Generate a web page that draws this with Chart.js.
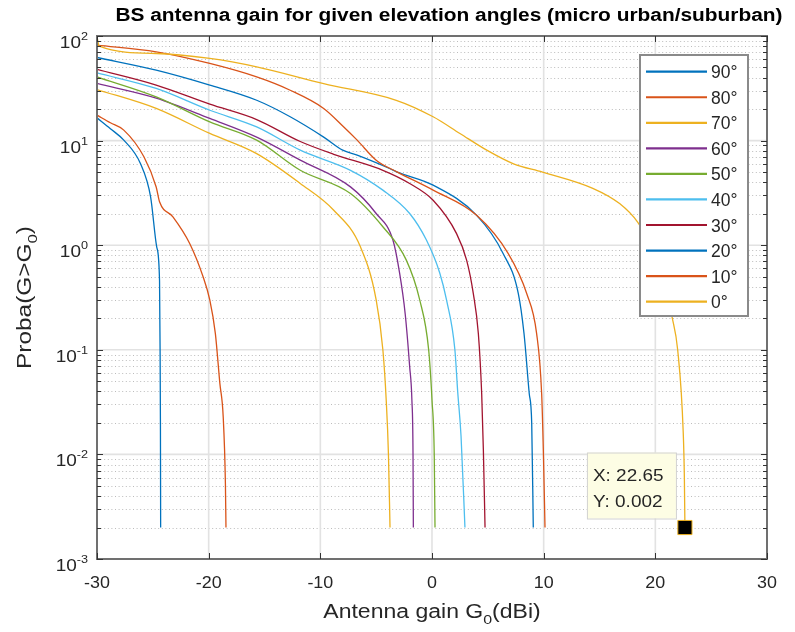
<!DOCTYPE html>
<html lang="en">
<head>
<meta charset="UTF-8">
<title>BS antenna gain for given elevation angles</title>
<script src="https://cdn.jsdelivr.net/npm/chart.js"></script>
<style>
  html, body { margin: 0; padding: 0; background: #fff; }
  #wrap { width: 795px; height: 632px; }
</style>
</head>
<body>
<div id="wrap"><canvas id="gainChart" width="795" height="632"></canvas></div>
<script>
// legend order, MATLAB default colour order
const angles = ['90°', '80°', '70°', '60°', '50°', '40°', '30°', '20°', '10°', '0°'];
const colors = ['#0072BD', '#D95319', '#EDB120', '#7E2F8E', '#77AC30', '#4DBEEE', '#A2142F', '#0072BD', '#D95319', '#EDB120'];

// curves: gain G0 (dBi) and Proba(G>G0)
const g90 = [-30, -28.8, -27.6, -26.1, -25.2, -24.65, -24.4, -24.35, -24.32, -24.3];
const p90 = [16.5, 13, 10.1, 6.0, 2.9, 0.96, 0.46, 0.1, 0.02, 0.002];
const g80 = [-30, -28.8, -27.6, -25.8, -24.7, -24.4, -23.2, -21.7, -20.5, -19.9, -19.4, -19.0, -18.7, -18.5, -18.45];
const p80 = [17.5, 14.8, 12.6, 7.0, 3.6, 2.6, 1.87, 1.04, 0.50, 0.30, 0.143, 0.048, 0.023, 0.0052, 0.002];
const g70 = [-30, -24.7, -19.9, -15.7, -11.8, -8.8, -6.4, -5.0, -4.4, -4.1, -3.9, -3.76];
const p70 = [30.8, 20.3, 11.7, 7.5, 3.89, 2.16, 0.96, 0.30, 0.1, 0.033, 0.01, 0.002];
const g60 = [-30, -24.7, -19.9, -15.7, -11.8, -7.3, -5.0, -3.5, -2.9, -2.4, -2.0, -1.8, -1.7, -1.67];
const p60 = [35.2, 25.5, 16.3, 10.8, 6.5, 3.61, 2.01, 1.12, 0.54, 0.22, 0.069, 0.033, 0.01, 0.002];
const g50 = [-30, -24.7, -19.9, -15.7, -11.8, -7.3, -4.4, -2.3, -1.1, -0.3, 0.0, 0.2, 0.27];
const p50 = [40.6, 26.2, 15.1, 10.1, 5.2, 3.12, 1.5, 0.72, 0.30, 0.1, 0.033, 0.01, 0.002];
const g40 = [-30, -24.7, -19.9, -15.7, -11.8, -7.3, -4.4, -2.0, -0.5, 0.7, 1.3, 2.05, 2.3, 2.6, 2.95];
const p40 = [44.4, 31.5, 19.5, 13.5, 8.1, 5.2, 3.36, 2.01, 1.12, 0.54, 0.30, 0.1, 0.04, 0.015, 0.002];
const g30 = [-30, -24.7, -19.9, -15.7, -11.8, -8.8, -4.4, -2.0, 0.1, 2.2, 3.1, 3.7, 4.15, 4.45, 4.6, 4.75];
const p30 = [47.9, 33.9, 22.3, 15.9, 9.8, 7.4, 5.2, 3.89, 2.69, 1.29, 0.72, 0.345, 0.143, 0.038, 0.011, 0.002];
const g20 = [-30, -24.7, -19.9, -15.7, -12.7, -9.7, -8.0, -6.7, -3.8, -3.1, 0.1, 4.0, 6.38, 7.73, 8.24, 8.71, 8.93, 9.07];
const p20 = [62.3, 47.1, 33.9, 24.3, 16.9, 10.8, 8.1, 7.25, 5.41, 5.0, 3.75, 1.93, 0.83, 0.345, 0.143, 0.038, 0.0197, 0.002];
const g10 = [-30, -24.7, -19.9, -15.7, -12.7, -9.7, -7.9, -6.7, -5.0, -3.1, 0.1, 4.0, 6.83, 8.48, 9.37, 9.82, 9.97, 10.12];
const p10 = [81.7, 70.5, 54.6, 40.6, 30.3, 20.3, 13.5, 10.1, 6.5, 5.0, 3.36, 1.93, 0.83, 0.345, 0.143, 0.038, 0.011, 0.002];
const g0 = [-30, -29.8, -24.7, -19.9, -15.7, -9.7, -3.2, 0.1, 2.5, 4.9, 7.3, 9.9, 14.4, 16.8, 18.4, 19.8, 20.8, 21.5, 22.0, 22.5, 22.6, 22.65];
const p0 = [98, 80, 68, 61, 50.7, 35, 24.3, 16.9, 11.7, 8.1, 6.0, 5.0, 3.5, 2.5, 1.67, 0.9, 0.45, 0.205, 0.1, 0.016, 0.006, 0.002];

const gains = [g90, g80, g70, g60, g50, g40, g30, g20, g10, g0];
const probas = [p90, p80, p70, p60, p50, p40, p30, p20, p10, p0];

// axes
const xTicks = [-30, -20, -10, 0, 10, 20, 30];
const yExps = [-3, -2, -1, 0, 1, 2];

// data tip
const tipX = 22.65;
const tipY = 0.002;

const FONT = '"Liberation Sans", Arial, Helvetica, sans-serif';
const TXT = '#262626';

// draws a run of text pieces (for sub/superscripts); returns width
function runs(ctx, parts, x, y, align, sx) {
  sx = sx || 1;
  let total = 0;
  parts.forEach(p => {
    ctx.font = (p.bold ? 'bold ' : '') + p.size + 'px ' + FONT;
    p.w = ctx.measureText(p.t).width * sx;
    total += p.w;
  });
  let left = x;
  if (align === 'center') left = x - total / 2;
  if (align === 'right') left = x - total;
  parts.forEach(p => {
    ctx.save();
    ctx.font = (p.bold ? 'bold ' : '') + p.size + 'px ' + FONT;
    ctx.fillStyle = p.color || TXT;
    ctx.textAlign = 'left';
    ctx.textBaseline = 'alphabetic';
    ctx.translate(left, y + (p.dy || 0));
    ctx.scale(sx, 1);
    ctx.fillText(p.t, 0, 0);
    ctx.restore();
    left += p.w;
  });
  return total;
}

const axesDecor = {
  id: 'axesDecor',
  beforeDatasetsDraw(chart) {
    const ctx = chart.ctx;
    const a = chart.chartArea;
    const xs = chart.scales.x, ys = chart.scales.y;
    ctx.save();
    // minor dotted grid (2..9 x 10^n)
    ctx.strokeStyle = '#bcbcbc';
    ctx.lineWidth = 1;
    ctx.setLineDash([1, 2.6]);
    yExps.slice(0, -1).forEach(e => {
      for (let m = 2; m <= 9; m++) {
        const py = Math.round(ys.getPixelForValue(m * Math.pow(10, e))) + 0.5;
        ctx.beginPath();
        ctx.moveTo(a.left, py);
        ctx.lineTo(a.right, py);
        ctx.stroke();
      }
    });
    ctx.setLineDash([]);
    // major grid
    ctx.strokeStyle = '#e2e2e2';
    ctx.lineWidth = 1.6;
    xTicks.forEach(v => {
      const px = xs.getPixelForValue(v);
      ctx.beginPath();
      ctx.moveTo(px, a.top);
      ctx.lineTo(px, a.bottom);
      ctx.stroke();
    });
    yExps.forEach(e => {
      const py = ys.getPixelForValue(Math.pow(10, e));
      ctx.beginPath();
      ctx.moveTo(a.left, py);
      ctx.lineTo(a.right, py);
      ctx.stroke();
    });
    ctx.restore();
  },
  afterDatasetsDraw(chart) {
    const ctx = chart.ctx;
    const a = chart.chartArea;
    const xs = chart.scales.x, ys = chart.scales.y;
    ctx.save();

    // axes box
    ctx.strokeStyle = '#707070';
    ctx.lineWidth = 2;
    ctx.strokeRect(a.left, a.top, a.right - a.left, a.bottom - a.top);

    // tick marks
    ctx.strokeStyle = '#333';
    ctx.lineWidth = 1;
    xTicks.forEach(v => {
      const px = Math.round(xs.getPixelForValue(v)) + 0.5;
      ctx.beginPath();
      ctx.moveTo(px, a.bottom); ctx.lineTo(px, a.bottom - 6);
      ctx.moveTo(px, a.top); ctx.lineTo(px, a.top + 6);
      ctx.stroke();
    });
    yExps.forEach((e, i) => {
      const py = Math.round(ys.getPixelForValue(Math.pow(10, e))) + 0.5;
      ctx.beginPath();
      ctx.moveTo(a.left, py); ctx.lineTo(a.left + 6, py);
      ctx.moveTo(a.right, py); ctx.lineTo(a.right - 6, py);
      ctx.stroke();
      if (i < yExps.length - 1) {
        for (let m = 2; m <= 9; m++) {
          const q = Math.round(ys.getPixelForValue(m * Math.pow(10, e))) + 0.5;
          ctx.beginPath();
          ctx.moveTo(a.left, q); ctx.lineTo(a.left + 4, q);
          ctx.moveTo(a.right, q); ctx.lineTo(a.right - 4, q);
          ctx.stroke();
        }
      }
    });

    // tick labels
    xTicks.forEach(v => {
      runs(ctx, [{t: String(v), size: 16.3}], xs.getPixelForValue(v), a.bottom + 29, 'center', 1.1);
    });
    yExps.forEach(e => {
      const py = ys.getPixelForValue(Math.pow(10, e));
      runs(ctx, [{t: '10', size: 16.5}, {t: String(e), size: 11, dy: -8}], 88, py + 12, 'right', 1.15);
    });

    // axis labels
    runs(ctx, [{t: 'Antenna gain G', size: 19.5}, {t: '0', size: 13.5, dy: 6}, {t: '(dBi)', size: 19.5}],
      (a.left + a.right) / 2, 618, 'center', 1.18);
    ctx.save();
    ctx.translate(31, (a.top + a.bottom) / 2);
    ctx.rotate(-Math.PI / 2);
    runs(ctx, [{t: 'Proba(G>G', size: 19.5}, {t: '0', size: 13.5, dy: 6}, {t: ')', size: 19.5}], 0, 0, 'center', 1.25);
    ctx.restore();

    // title
    runs(ctx, [{t: 'BS antenna gain for given elevation angles (micro urban/suburban)', size: 18, bold: true, color: '#000'}],
      449, 21, 'center', 1.16);

    // legend
    const lx = 640, ly = 55, lw = 108, lh = 261;
    ctx.fillStyle = '#fff';
    ctx.fillRect(lx, ly, lw, lh);
    ctx.strokeStyle = '#8a8a8a';
    ctx.lineWidth = 2;
    ctx.strokeRect(lx, ly, lw, lh);
    angles.forEach((name, i) => {
      const ry = 71.7 + i * 25.55;
      ctx.strokeStyle = colors[i];
      ctx.lineWidth = 2.2;
      ctx.beginPath();
      ctx.moveTo(lx + 6, ry);
      ctx.lineTo(lx + 67, ry);
      ctx.stroke();
      runs(ctx, [{t: name, size: 17.5}], lx + 71, ry + 6.5, 'left', 1.0);
    });

    // data tip
    const mx = xs.getPixelForValue(tipX), my = ys.getPixelForValue(tipY);
    const bx = mx - 98, by = my - 75, bw = 89, bh = 66;
    ctx.fillStyle = '#fdfde4';
    ctx.fillRect(bx, by, bw, bh);
    ctx.strokeStyle = '#d2d2d2';
    ctx.lineWidth = 1;
    ctx.strokeRect(bx + 0.5, by + 0.5, bw, bh);
    runs(ctx, [{t: 'X: ' + tipX.toFixed(2), size: 16.8}], bx + 6, by + 28, 'left', 1.13);
    runs(ctx, [{t: 'Y: ' + tipY, size: 16.8}], bx + 6, by + 54, 'left', 1.13);

    ctx.restore();
  }
};

const datasets = angles.map((name, i) => ({
  label: name,
  data: gains[i].map((g, k) => ({x: g, y: probas[i][k]})),
  borderColor: colors[i],
  borderWidth: 1.3,
  pointRadius: 0,
  fill: false,
  cubicInterpolationMode: 'monotone',
  order: angles.length - i
}));
datasets.push({
  label: 'tip',
  data: [{x: tipX, y: tipY}],
  showLine: false,
  pointStyle: 'rect',
  pointRadius: 10,
  pointBackgroundColor: '#000',
  pointBorderColor: '#EDB120',
  pointBorderWidth: 1,
  order: 0
});

new Chart(document.getElementById('gainChart').getContext('2d'), {
  type: 'line',
  data: { datasets: datasets },
  options: {
    responsive: false,
    animation: false,
    devicePixelRatio: 1,
    layout: { padding: { left: 97, top: 36, right: 28, bottom: 73 } },
    scales: {
      x: { type: 'linear', min: -30, max: 30, display: false },
      y: { type: 'logarithmic', min: 0.001, max: 100, display: false }
    },
    plugins: {
      legend: { display: false },
      tooltip: { enabled: false },
      title: { display: false }
    }
  },
  plugins: [axesDecor]
});
</script>
</body>
</html>
